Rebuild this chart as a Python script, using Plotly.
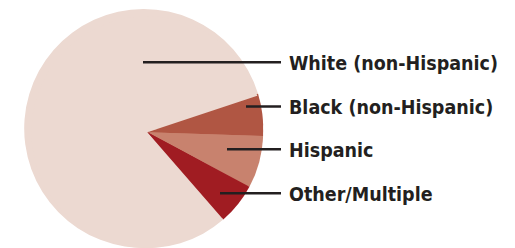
import plotly.graph_objects as go

W, H = 515, 248

# Data (shares, %)
categories = ["Black (non-Hispanic)", "Hispanic", "Other/Multiple", "White (non-Hispanic)"]
shares = [5.6, 7.3, 5.8, 81.3]
colors = ["#B05643", "#C8826E", "#A01C22", "#ECD9D1"]

# Label order (top to bottom) and leader lines
label_order = ["White (non-Hispanic)", "Black (non-Hispanic)", "Hispanic", "Other/Multiple"]
label_y_px = [62.3, 106.5, 149.2, 193.3]
leader_start_px = [143, 246, 227, 220]
leader_end_px = 281
text_x_px = 287

def px(x):
    return x / W

def py(y):
    return 1 - y / H

fig = go.Figure()

# Outer disc (full circle outline of the pie)
fig.add_trace(go.Pie(
    labels=categories, values=shares, sort=False, direction="clockwise",
    rotation=73, marker=dict(colors=colors, line=dict(width=0)),
    textinfo="none", hoverinfo="label+percent", showlegend=False,
    domain=dict(x=[px(24), px(263.4)], y=[0, py(9)]),
))
# Slices drawn from the apex point
fig.add_trace(go.Pie(
    labels=categories, values=shares, sort=False, direction="clockwise",
    rotation=71.7, marker=dict(colors=colors, line=dict(width=0)),
    textinfo="none", hoverinfo="label+percent", showlegend=False,
    domain=dict(x=[px(147.3 - 116), px(147.3 + 116)], y=[0, py(132.3 - 116)]),
))

for name, ly, lx in zip(label_order, label_y_px, leader_start_px):
    fig.add_shape(type="line", xref="paper", yref="paper",
                  x0=px(lx), x1=px(leader_end_px), y0=py(ly), y1=py(ly),
                  line=dict(color="#231F20", width=2.5))
    fig.add_annotation(text="<b>" + name + "</b>", xref="paper", yref="paper",
                       x=px(text_x_px), y=py(ly + 1), xanchor="left", yanchor="middle",
                       showarrow=False,
                       font=dict(family="DejaVu Sans Condensed, Liberation Sans Narrow, sans-serif",
                                 size=19.5, color="#231F20"))

fig.update_layout(width=W, height=H, margin=dict(l=0, r=0, t=0, b=0),
                  paper_bgcolor="white", plot_bgcolor="white")

fig.write_html("out.html", config={"displayModeBar": False},
               post_script="document.body.style.margin='0';document.body.style.overflow='hidden';")
